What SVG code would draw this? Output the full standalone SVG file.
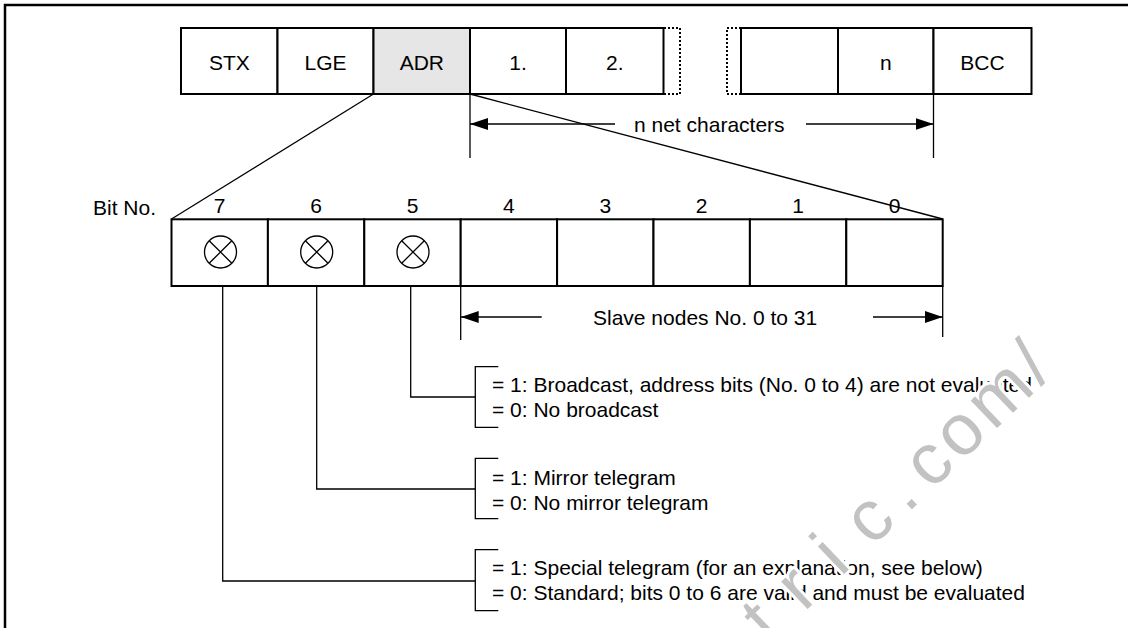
<svg xmlns="http://www.w3.org/2000/svg" width="1128" height="628" viewBox="0 0 1128 628">
<style>
.t{font-family:"Liberation Sans",Arial,sans-serif;font-size:21px;fill:#000}
.c{text-anchor:middle}
.box{fill:#fff;stroke:#000;stroke-width:2}
.ln{fill:none;stroke:#000;stroke-width:1.3}
.dot{fill:none;stroke:#000;stroke-width:2;stroke-dasharray:2 2}
.wm{font-family:"Liberation Sans",Arial,sans-serif;font-size:72px;fill:#c2c2c2;stroke:#fff;stroke-width:6;paint-order:stroke}
</style>
<defs>
<marker id="arr" markerUnits="userSpaceOnUse" markerWidth="18" markerHeight="12" viewBox="0 0 18 12" refX="18" refY="6" orient="auto">
<path d="M0,0 L18,6 L0,12 z" fill="#000"/>
</marker>
</defs>
<rect width="1128" height="628" fill="#fff"/>
<path d="M5,628 V5 H1128" fill="none" stroke="#000" stroke-width="2.5"/>

<g id="frame">
<g id="stx"><rect class="box" x="181" y="28" width="96.5" height="66"/><text class="t c" x="229.3" y="69.5">STX</text></g>
<g id="lge"><rect class="box" x="277.5" y="28" width="96" height="66"/><text class="t c" x="325.5" y="69.5">LGE</text></g>
<g id="adr"><rect class="box" x="373.5" y="28" width="96.5" height="66" style="fill:#e6e6e6"/><text class="t c" x="421.8" y="69.5">ADR</text></g>
<g id="c1"><rect class="box" x="470" y="28" width="96" height="66"/><text class="t c" x="518" y="69.5">1.</text></g>
<g id="c2"><rect class="box" x="566" y="28" width="97.5" height="66"/><text class="t c" x="614.8" y="69.5">2.</text></g>
<g id="gap"><path class="dot" d="M664,28 H680 V94 H664"/><path class="dot" d="M741,28 H727 V94 H741"/></g>
<g id="cx"><rect class="box" x="741" y="28" width="97" height="66"/></g>
<g id="cn"><rect class="box" x="838" y="28" width="95.5" height="66"/><text class="t c" x="885.8" y="69.5">n</text></g>
<g id="bcc"><rect class="box" x="933.5" y="28" width="98" height="66"/><text class="t c" x="982.5" y="69.5">BCC</text></g>
</g>

<g id="connectors">
<line class="ln" x1="373.5" y1="94" x2="171.5" y2="219"/>
<line class="ln" x1="470" y1="94" x2="470" y2="158"/>
<line class="ln" x1="933.5" y1="94" x2="933.5" y2="158"/>
<line class="ln" x1="615" y1="124" x2="470" y2="124" marker-end="url(#arr)"/>
<line class="ln" x1="806" y1="124" x2="933.5" y2="124" marker-end="url(#arr)"/>
<line class="ln" x1="460.7" y1="286" x2="460.7" y2="340"/>
<line class="ln" x1="942.7" y1="286" x2="942.7" y2="337"/>
<line class="ln" x1="541.7" y1="317" x2="460.7" y2="317" marker-end="url(#arr)"/>
<line class="ln" x1="873" y1="317" x2="942.7" y2="317" marker-end="url(#arr)"/>
<path class="ln" d="M410.7,286 V397 H475.3"/>
<path class="ln" d="M316.7,286 V489 H475.3"/>
<path class="ln" d="M222.7,286 V581 H475.3"/>
<path class="ln" d="M498.3,366.7 H475.3 V427.3 H498.3"/>
<path class="ln" d="M498.3,458.3 H475.3 V518.7 H498.3"/>
<path class="ln" d="M498.3,549.7 H475.3 V610.7 H498.3"/>
</g>

<text class="t" x="634" y="132">n net characters</text>
<text class="t" x="593" y="325">Slave nodes No. 0 to 31</text>

<g id="bits">
<text class="t" x="93" y="215">Bit No.</text>
<g id="b7"><rect class="box" x="171.5" y="219.3" width="96.4" height="66.7"/><text class="t c" x="219.7" y="213">7</text><circle class="ln" cx="220.5" cy="252" r="16"/><path class="ln" d="M209.2,240.7 L231.8,263.3 M231.8,240.7 L209.2,263.3"/></g>
<g id="b6"><rect class="box" x="267.9" y="219.3" width="96.4" height="66.7"/><text class="t c" x="316.1" y="213">6</text><circle class="ln" cx="316.7" cy="252" r="16"/><path class="ln" d="M305.4,240.7 L328,263.3 M328,240.7 L305.4,263.3"/></g>
<g id="b5"><rect class="box" x="364.3" y="219.3" width="96.4" height="66.7"/><text class="t c" x="412.5" y="213">5</text><circle class="ln" cx="413" cy="252" r="16"/><path class="ln" d="M401.7,240.7 L424.3,263.3 M424.3,240.7 L401.7,263.3"/></g>
<g id="b4"><rect class="box" x="460.7" y="219.3" width="96.4" height="66.7"/><text class="t c" x="508.9" y="213">4</text></g>
<g id="b3"><rect class="box" x="557.1" y="219.3" width="96.4" height="66.7"/><text class="t c" x="605.3" y="213">3</text></g>
<g id="b2"><rect class="box" x="653.5" y="219.3" width="96.4" height="66.7"/><text class="t c" x="701.7" y="213">2</text></g>
<g id="b1"><rect class="box" x="749.9" y="219.3" width="96.4" height="66.7"/><text class="t c" x="798.1" y="213">1</text></g>
<g id="b0"><rect class="box" x="846.3" y="219.3" width="96.4" height="66.7"/><text class="t c" x="894.5" y="213">0</text></g>
</g>
<line class="ln" x1="470" y1="94" x2="942.7" y2="219"/>

<g id="desc5"><text class="t" x="492" y="392">= 1: Broadcast, address bits (No. 0 to 4) are not evaluated</text><text class="t" x="492" y="417">= 0: No broadcast</text></g>
<g id="desc6"><text class="t" x="492" y="485">= 1: Mirror telegram</text><text class="t" x="492" y="510">= 0: No mirror telegram</text></g>
<g id="desc7"><text class="t" x="492" y="575">= 1: Special telegram (for an explanation, see below)</text><text class="t" x="492" y="600">= 0: Standard; bits 0 to 6 are valid and must be evaluated</text></g>

<text class="wm" transform="translate(770,645) rotate(-43.7)" dx="0 27 27 27 13 13 5 5 5">tric.com/</text>
</svg>
